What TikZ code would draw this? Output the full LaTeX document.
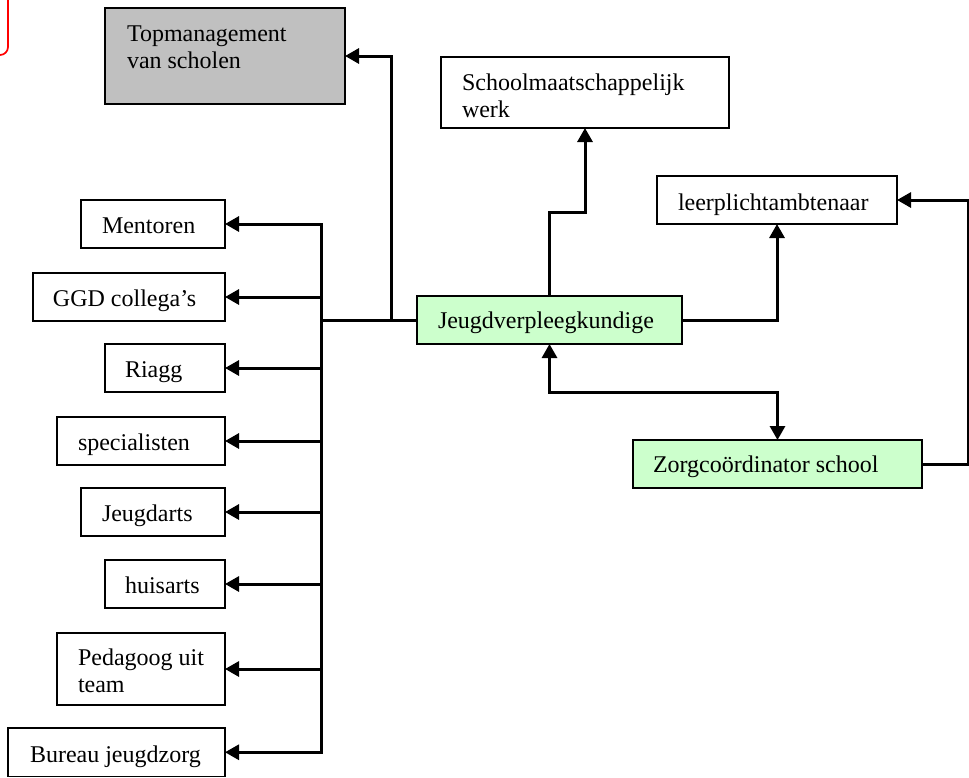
\documentclass[tikz,border=0pt]{standalone}
\usepackage{fontspec}
\setmainfont{Liberation Serif}
\usetikzlibrary{arrows.meta}
\definecolor{boxgray}{RGB}{192,192,192}
\definecolor{boxgreen}{RGB}{204,255,204}
\tikzset{
  box/.style={draw=black, line width=0.7pt, inner sep=0pt, outer sep=0pt},
  txt/.style={inner sep=0pt, outer sep=0pt, anchor=base west, align=left,
              font=\fontsize{12pt}{13.8pt}\selectfont},
  conn/.style={line width=1.5pt, draw=black},
  arr/.style={conn, -{Triangle[length=7pt,width=7.5pt]}},
  arrboth/.style={conn, {Triangle[length=7pt,width=7.5pt]}-{Triangle[length=7pt,width=7.5pt]}}
}
\begin{document}
\begin{tikzpicture}[x=0.5pt, y=-0.5pt]
\useasboundingbox (0,0) rectangle (969,777);
\fill[white] (0,0) rectangle (969,777);
% red partial frame top-left
\draw[red, line width=0.85pt, rounded corners=4pt] (-40,-40) rectangle (8,55);

% boxes
\node[box, fill=boxgray, minimum width=120pt, minimum height=48pt] (top) at (225,56) {};
\node[box, minimum width=144pt, minimum height=35.5pt] (smw) at (585,92.5) {};
\node[box, minimum width=120pt, minimum height=24pt] (lpa) at (777,200) {};
\node[box, fill=boxgreen, minimum width=132.5pt, minimum height=24pt] (jeugd) at (549.5,320) {};
\node[box, fill=boxgreen, minimum width=144.5pt, minimum height=24pt] (zorg) at (777.5,464) {};
\node[box, minimum width=72pt, minimum height=24pt] (men) at (153,224) {};
\node[box, minimum width=96pt, minimum height=24pt] (ggd) at (129,297) {};
\node[box, minimum width=60pt, minimum height=24pt] (riagg) at (165,368) {};
\node[box, minimum width=84pt, minimum height=24pt] (spec) at (141,441) {};
\node[box, minimum width=72pt, minimum height=24pt] (jda) at (153,512) {};
\node[box, minimum width=60pt, minimum height=24pt] (hui) at (165,584) {};
\node[box, minimum width=84pt, minimum height=36pt] (ped) at (141,669) {};
\node[box, minimum width=108.5pt, minimum height=24.25pt] (bur) at (116.5,752.25) {};

% texts (multi-line: base anchor is the last line)
\node[txt] (topT) at (127,68.6) {Topmanagement\\van scholen};
\node[txt] (smwT) at (462,117.6) {Schoolmaatschappelijk\\werk};
\node[txt] (lpaT) at (678,210) {leerplichtambtenaar};
\node[txt] (jeugdT) at (438,328) {Jeugdverpleegkundige};
\node[txt] (zorgT) at (653,472) {Zorgcoördinator school};
\node[txt] (menT) at (102,233) {Mentoren};
\node[txt] (ggdT) at (53,306) {GGD collega’s};
\node[txt] (riaggT) at (125,377) {Riagg};
\node[txt] (specT) at (78,450) {specialisten};
\node[txt] (jdaT) at (102,521) {Jeugdarts};
\node[txt] (huiT) at (125,593) {huisarts};
\node[txt] (pedT) at (78,692.6) {Pedagoog uit\\team};
\node[txt] (burT) at (30,762) {Bureau jeugdzorg};

% helper coordinates
\coordinate (hub) at (321,320);
\coordinate (tm) at (391,320);
\coordinate (b1) at (549.5,212);
\coordinate (b2) at (660,392);
\coordinate (rx) at (968,464);

% left tree
\draw[conn] (jeugd.west) -- (hub);
\draw[arr] (tm) |- (top.east);
\draw[arr] (hub) |- (men.east);
\draw[arr] (hub) |- (ggd.east);
\draw[arr] (hub) |- (riagg.east);
\draw[arr] (hub) |- (spec.east);
\draw[arr] (hub) |- (jda.east);
\draw[arr] (hub) |- (hui.east);
\draw[arr] (hub) |- (ped.east);
\draw[arr] (hub) |- (bur.east);

% right side
\draw[arr] (jeugd.north) -- (b1) -| (smw.south);
\draw[arr] (jeugd.east) -| (lpa.south);
\draw[arr] (zorg.east) -- (rx) |- (lpa.east);
\draw[arrboth] (jeugd.south) |- (b2) -| (zorg.north);
\end{tikzpicture}
\end{document}
